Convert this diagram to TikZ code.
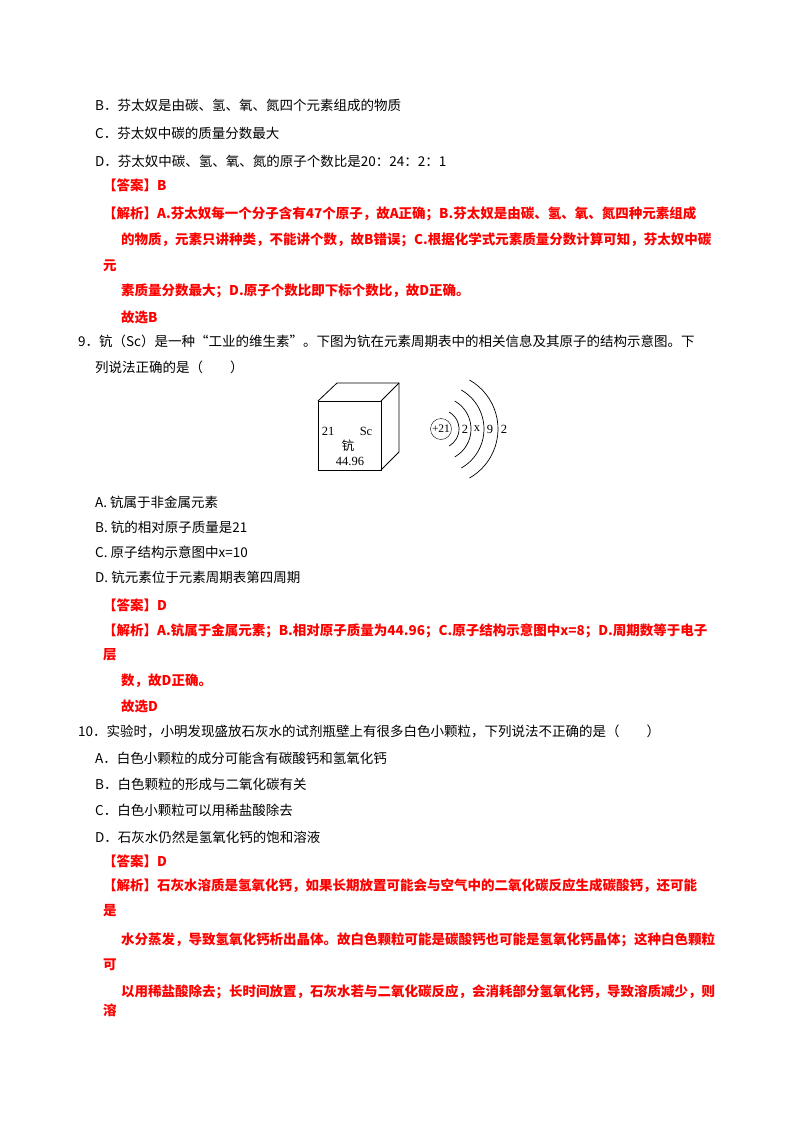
\documentclass[tikz,border=0pt]{standalone}
\usepackage{fontspec}
\setmainfont{Liberation Serif}
\newfontfamily\cjk{Noto Sans CJK SC}
\begin{document}
\begin{tikzpicture}[x=1pt,y=-1pt,
 t/.style={anchor=west,inner sep=0pt,font=\cjk\fontsize{13.5}{14}\selectfont},
 r/.style={t,text=red,font=\cjk\bfseries\fontsize{13.5}{14}\selectfont},
 fig/.style={inner sep=0pt,font=\fontsize{12.5}{13}\selectfont}]
\useasboundingbox (0,0) rectangle (800,1132);
\node[t] (l1) at (95,105) {B．芬太奴是由碳、氢、氧、氮四个元素组成的物质};
\node[t] (l2) at (95,133) {C．芬太奴中碳的质量分数最大};
\node[t] (l3) at (95,161) {D．芬太奴中碳、氢、氧、氮的原子个数比是20：24：2：1};
\node[r] (l4) at (103,185) {【答案】B};
\node[r] (l5) at (103,214) {【解析】A.芬太奴每一个分子含有47个原子，故A正确；B.芬太奴是由碳、氢、氧、氮四种元素组成};
\node[r] (l6) at (121,240) {的物质，元素只讲种类，不能讲个数，故B错误；C.根据化学式元素质量分数计算可知，芬太奴中碳};
\node[r] (l7) at (103,266) {元};
\node[r] (l8) at (121,291) {素质量分数最大；D.原子个数比即下标个数比，故D正确。};
\node[r] (l9) at (121,317) {故选B};
\node[t] (q9) at (78,341) {9．钪（Sc）是一种“工业的维生素”。下图为钪在元素周期表中的相关信息及其原子的结构示意图。下};
\node[t] (q9b) at (95,367) {列说法正确的是（　　）};
% cube
\draw[line width=0.8pt] (318,401) rectangle (381,470);
\draw[line width=0.8pt] (318,401) -- (337,383) -- (399,383) -- (399,452) -- (381,470);
\draw[line width=0.8pt] (381,401) -- (399,383);
\node[fig] (n21) at (328,431) {21};
\node[fig] (sc) at (366,431) {Sc};
\node[inner sep=0pt,font=\cjk\fontsize{12.5}{13}\selectfont] (zh) at (348,446) {钪};
\node[fig] (m) at (350,461) {44.96};
% atom
\node[draw,circle,inner sep=0.5pt,minimum size=21pt,font=\fontsize{11.5}{12}\selectfont] (nuc) at (441,429) {+21};
\foreach \xr/\h in {459/17,471/28,484/39,498/49}{
 \pgfmathsetmacro{\R}{\h*1.15}
 \pgfmathsetmacro{\th}{asin(\h/\R)}
 \draw[line width=0.7pt] (\xr,429) ++({-\R+\R*cos(\th)},{-\R*sin(\th)}) arc[start angle=-\th,end angle=\th,radius=\R];}
\foreach \xx/\d in {465/2,477/x,490/9,504/2}
 \node[fig] at (\xx,429) {\d};
\node[t] (a1) at (95,502) {A. 钪属于非金属元素};
\node[t] (a2) at (95,527) {B. 钪的相对原子质量是21};
\node[t] (a3) at (95,552) {C. 原子结构示意图中x=10};
\node[t] (a4) at (95,577) {D. 钪元素位于元素周期表第四周期};
\node[r] (a5) at (103,605) {【答案】D};
\node[r] (a6) at (103,631) {【解析】A.钪属于金属元素；B.相对原子质量为44.96；C.原子结构示意图中x=8；D.周期数等于电子};
\node[r] (a7) at (103,655) {层};
\node[r] (a8) at (121,681) {数，故D正确。};
\node[r] (a9) at (121,706) {故选D};
\node[t] (q10) at (78,731) {10．实验时，小明发现盛放石灰水的试剂瓶壁上有很多白色小颗粒，下列说法不正确的是（　　）};
\node[t] (b1) at (95,758) {A．白色小颗粒的成分可能含有碳酸钙和氢氧化钙};
\node[t] (b2) at (95,784) {B．白色颗粒的形成与二氧化碳有关};
\node[t] (b3) at (95,810) {C．白色小颗粒可以用稀盐酸除去};
\node[t] (b4) at (95,837) {D．石灰水仍然是氢氧化钙的饱和溶液};
\node[r] (b5) at (103,861) {【答案】D};
\node[r] (b6) at (103,886) {【解析】石灰水溶质是氢氧化钙，如果长期放置可能会与空气中的二氧化碳反应生成碳酸钙，还可能};
\node[r] (b7) at (103,911) {是};
\node[r] (b8) at (121,940) {水分蒸发，导致氢氧化钙析出晶体。故白色颗粒可能是碳酸钙也可能是氢氧化钙晶体；这种白色颗粒};
\node[r] (b9) at (103,965) {可};
\node[r] (b10) at (121,992) {以用稀盐酸除去；长时间放置，石灰水若与二氧化碳反应，会消耗部分氢氧化钙，导致溶质减少，则};
\node[r] (b11) at (103,1010) {溶};
\end{tikzpicture}
\end{document}
